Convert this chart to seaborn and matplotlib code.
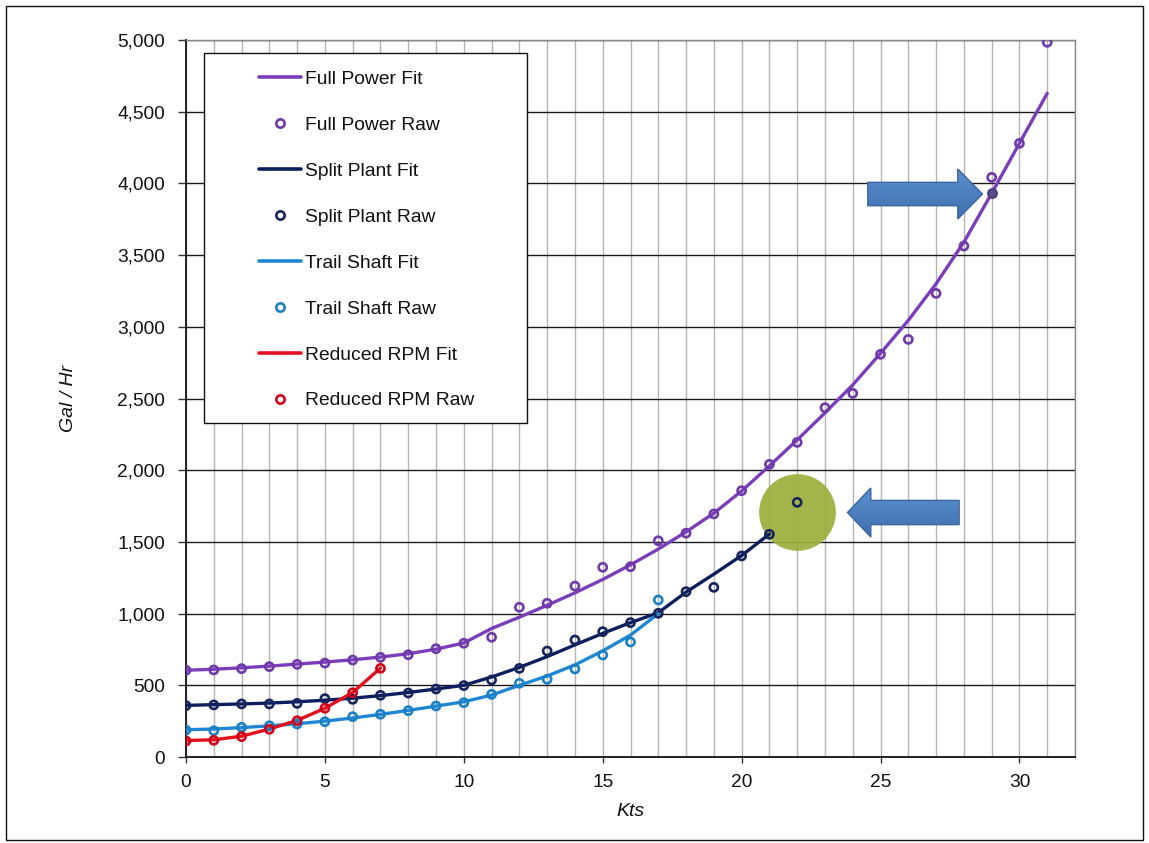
import numpy as np
import pandas as pd
import seaborn as sns
import matplotlib
matplotlib.use("Agg")
import matplotlib.pyplot as plt
from matplotlib.lines import Line2D
from matplotlib.patches import FancyArrow, Rectangle
from matplotlib.ticker import MultipleLocator, FuncFormatter

# ---- fuel burn data (knots vs gallons per hour) ----
kts_full = list(range(0, 32))
full_raw = [605, 607, 616, 630, 646, 655, 676, 695, 713, 755, 793, 835,
            1044, 1072, 1192, 1323, 1327, 1508, 1561, 1695, 1857, 2041,
            2194, 2436, 2536, 2808, 2912, 3233, 3563, 4042, 4279, 4984]
full_fit = [605, 612, 622, 634, 648, 662, 678, 697, 720, 752, 795, 896,
            975, 1058, 1145, 1238, 1340, 1450, 1570, 1700, 1855, 2030,
            2211, 2400, 2595, 2815, 3045, 3300, 3590, 3931, 4280, 4628]

kts_split_raw = list(range(0, 23))
split_raw = [358, 363, 370, 370, 374, 407, 402, 430, 446, 474, 498, 537,
             618, 739, 816, 874, 937, 1002, 1153, 1183, 1402, 1553, 1776]
kts_split_fit = list(range(0, 22))
split_fit = [360, 365, 370, 376, 385, 396, 410, 428, 450, 474, 500, 558,
             625, 700, 782, 862, 937, 1006, 1150, 1275, 1405, 1555]

kts_trail = list(range(0, 18))
trail_raw = [188, 183, 207, 218, 230, 246, 281, 298, 323, 356, 379, 437,
             514, 542, 614, 711, 802, 1095]
trail_fit = [190, 195, 205, 217, 232, 250, 272, 297, 325, 355, 385, 432,
             500, 565, 642, 740, 850, 1000]

kts_rpm = list(range(0, 8))
rpm_raw = [112, 116, 142, 193, 253, 340, 448, 618]
rpm_fit = [115, 120, 145, 195, 255, 340, 450, 620]

# point on the full-power curve picked out by the upper arrow
marked_kts = [29]
marked_gal = [3931]

# highlighted outlier on the split-plant curve
outlier_kts = [22]
outlier_gal = [1710]

series_names = ["Full Power", "Split Plant", "Trail Shaft", "Reduced RPM"]
line_colors = ["#7B3DBA", "#0B1F5E", "#1E86D2", "#E3101E"]
marker_colors = ["#6E3AA8", "#16245C", "#1A80C4", "#D0021B"]

x_ticks = [0, 5, 10, 15, 20, 25, 30]
y_ticks = [0, 500, 1000, 1500, 2000, 2500, 3000, 3500, 4000, 4500, 5000]

fit_df = pd.concat([
    pd.DataFrame({"Kts": kts_full, "Gal": full_fit, "Series": "Full Power"}),
    pd.DataFrame({"Kts": kts_split_fit, "Gal": split_fit, "Series": "Split Plant"}),
    pd.DataFrame({"Kts": kts_trail, "Gal": trail_fit, "Series": "Trail Shaft"}),
    pd.DataFrame({"Kts": kts_rpm, "Gal": rpm_fit, "Series": "Reduced RPM"}),
], ignore_index=True)

raw_sets = [
    (kts_full, full_raw),
    (kts_split_raw, split_raw),
    (kts_trail, trail_raw),
    (kts_rpm, rpm_raw),
]

# ---- style ----
sns.set_theme(style="white")
plt.rcParams["font.family"] = ["Liberation Sans", "DejaVu Sans"]

W, H = 1149, 843
fig = plt.figure(figsize=(W / 100, H / 100), dpi=100)
ax_l, ax_r, ax_t, ax_b = 186, 1075, 40, 757
ax = fig.add_axes([ax_l / W, 1 - ax_b / H, (ax_r - ax_l) / W, (ax_b - ax_t) / H])
ax.set_facecolor("white")

# grid: light vertical lines every knot, dark horizontal lines every 500
ax.xaxis.set_major_locator(MultipleLocator(5))
ax.xaxis.set_minor_locator(MultipleLocator(1))
ax.yaxis.set_major_locator(MultipleLocator(500))
ax.grid(axis="x", which="both", color="#B4B4B4", lw=1.0, zorder=0)
ax.grid(axis="y", which="major", color="#1A1A1A", lw=1.0, zorder=0)
ax.set_axisbelow(True)

# highlight disc behind the outlier
ax.scatter(outlier_kts, outlier_gal, s=3050, color="#9CAF3C", alpha=0.93,
           lw=0, zorder=1)

# fitted curves
pal = dict(zip(series_names, line_colors))
sns.lineplot(data=fit_df, x="Kts", y="Gal", hue="Series", palette=pal,
             hue_order=series_names, lw=2.4, legend=False, sort=False,
             estimator=None, ax=ax, zorder=3)

# raw readings as open circles
for (kx, ky), mc in zip(raw_sets, marker_colors):
    sns.scatterplot(x=kx, y=ky, marker="o", s=34, facecolor="none",
                    edgecolor=mc, linewidth=1.9, ax=ax, zorder=4)
sns.scatterplot(x=marked_kts, y=marked_gal, marker="o", s=40,
                color="#5E4C8E", edgecolor="#4A3B7A", linewidth=1.5,
                ax=ax, zorder=5)

# block arrows with a soft vertical gradient
def block_arrow(x_tail, x_tip, y, body, head, head_len):
    arr = FancyArrow(x_tail, y, x_tip - x_tail, 0, width=body,
                     head_width=head, head_length=head_len,
                     length_includes_head=True, fc="none",
                     ec="#3A66A0", lw=1.0, zorder=7)
    ax.add_patch(arr)
    grad = np.linspace(0, 1, 64).reshape(-1, 1)
    cmap = matplotlib.colors.LinearSegmentedColormap.from_list(
        "arrowblue", ["#3F6FAE", "#5C90CF"])
    im = ax.imshow(grad, cmap=cmap, aspect="auto", origin="lower",
                   extent=[min(x_tail, x_tip), max(x_tail, x_tip),
                           y - head / 2, y + head / 2], zorder=6)
    im.set_clip_path(arr)

block_arrow(24.54, 28.67, 3926, 163, 349, 0.89)
block_arrow(27.83, 23.81, 1705, 169, 342, 0.84)

# axes limits, ticks and labels
ax.set_xlim(0, 32)
ax.set_ylim(0, 5000)
ax.set_xticks(x_ticks)
ax.set_yticks(y_ticks)
ax.yaxis.set_major_formatter(FuncFormatter(lambda v, p: f"{int(v):,}"))
ax.tick_params(axis="y", which="major", direction="out", length=6, width=1,
               color="#333333", labelsize=13.8, pad=9, left=True)
ax.tick_params(axis="x", which="major", direction="out", length=4, width=1,
               color="#333333", labelsize=13.8, pad=8, bottom=True)
ax.tick_params(axis="x", which="minor", length=0)
for lab in ax.get_xticklabels() + ax.get_yticklabels():
    lab.set_color("#111111")

ax.set_xlabel("Kts", fontsize=14, style="italic", labelpad=9, color="#111111")
ax.set_ylabel("Gal / Hr", fontsize=14, style="italic", labelpad=29,
              color="#111111")

for side in ["left", "bottom"]:
    ax.spines[side].set_color("#222222")
    ax.spines[side].set_linewidth(1.4)
for side in ["top", "right"]:
    ax.spines[side].set_color("#8A8A8A")
    ax.spines[side].set_linewidth(1.0)

# legend: frame box plus entries
aw, ah = ax_r - ax_l, ax_b - ax_t
box_l, box_t, box_r, box_b = 204, 53, 527, 423
ax.add_patch(Rectangle(((box_l - ax_l) / aw, (ax_b - box_b) / ah),
                       (box_r - box_l) / aw, (box_b - box_t) / ah,
                       transform=ax.transAxes, fc="white", ec="#111111",
                       lw=1.0, zorder=8))
handles, labels = [], []
for name, lc, mc in zip(series_names, line_colors, marker_colors):
    handles.append(Line2D([], [], color=lc, lw=2.6))
    labels.append(f"{name} Fit")
    handles.append(Line2D([], [], ls="none", marker="o", ms=6, mfc="none",
                          mec=mc, mew=1.9))
    labels.append(f"{name} Raw")
leg = ax.legend(handles, labels, loc="upper left",
                bbox_to_anchor=((249 - ax_l) / aw, (ax_b - 61) / ah),
                frameon=False, fontsize=13.9, borderpad=0, handlelength=2.2,
                handletextpad=0.2, labelspacing=1.47)
leg.set_zorder(9)
for t in leg.get_texts():
    t.set_color("#111111")

# thin outer border
fig.add_artist(Rectangle((6 / W, 3 / H), (1143 - 6) / W, (840 - 6) / H,
                         transform=fig.transFigure, fill=False,
                         ec="#111111", lw=1.0))

fig.savefig("out.png", dpi=100, facecolor="white")
